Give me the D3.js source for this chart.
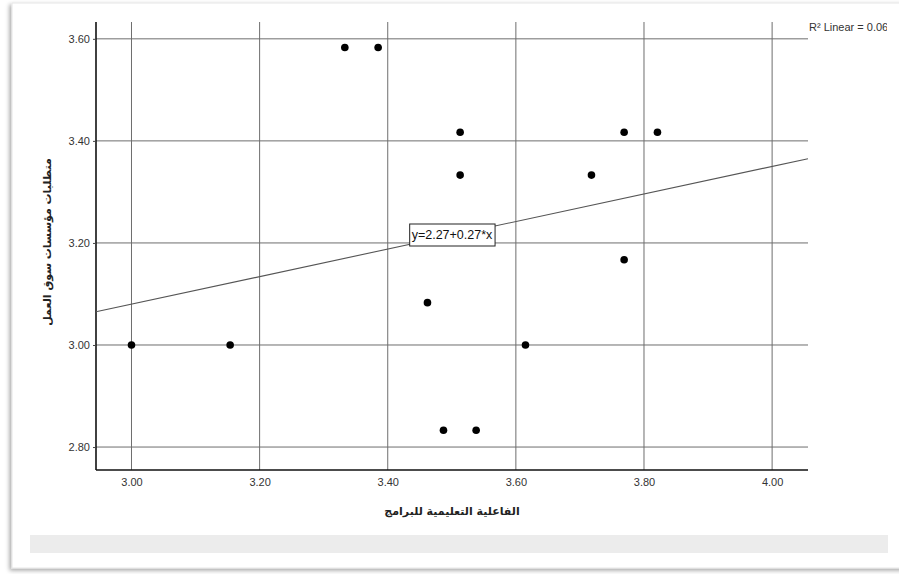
<!DOCTYPE html>
<html>
<head>
<meta charset="utf-8">
<script src="https://cdn.jsdelivr.net/npm/d3@7"></script>
<style>
  html, body { margin: 0; padding: 0; background: #ffffff; }
  svg { display: block; }
</style>
</head>
<body>
<svg id="chart" width="899" height="574"></svg>
<script>
// Scatter of programme effectiveness against labour-market requirements
const xValues = [3.000, 3.154, 3.333, 3.385, 3.462, 3.487, 3.538, 3.513, 3.513, 3.615, 3.718, 3.769, 3.821, 3.769];
const yValues = [3.000, 3.000, 3.583, 3.583, 3.083, 2.833, 2.833, 3.417, 3.333, 3.000, 3.333, 3.417, 3.417, 3.167];
const xTicks = [3.00, 3.20, 3.40, 3.60, 3.80, 4.00];
const yTicks = [2.80, 3.00, 3.20, 3.40, 3.60];
const fitIntercept = 2.27;
const fitSlope = 0.27;
const fitLabel = "y=2.27+0.27*x";
const rSquaredLabel = "R\u00B2 Linear = 0.06";
const xTitle = "الفاعلية التعليمية للبرامج";
const yTitle = "متطلبات مؤسسات سوق العمل";

const svg = d3.select("#chart");
const W = 899, H = 574;

// Card frame with a soft shadow along the left and bottom edges
const defs = svg.append("defs");
const shadow = defs.append("filter").attr("id", "cardShadow")
  .attr("x", "-5%").attr("y", "-5%").attr("width", "110%").attr("height", "110%");
shadow.append("feDropShadow").attr("dx", -2).attr("dy", 2).attr("stdDeviation", 2)
  .attr("flood-color", "#000").attr("flood-opacity", 0.35);

svg.append("rect").attr("x", 0).attr("y", 0).attr("width", W).attr("height", H).attr("fill", "#ffffff");
svg.append("rect")
  .attr("x", 12).attr("y", 3).attr("width", W + 20).attr("height", 565)
  .attr("fill", "#ffffff").attr("stroke", "#e6e6e6").attr("stroke-width", 1)
  .attr("filter", "url(#cardShadow)");

// Grey strip beneath the chart
svg.append("rect").attr("x", 30).attr("y", 535).attr("width", 858).attr("height", 18).attr("fill", "#ececec");

const clip = defs.append("clipPath").attr("id", "cardClip");
clip.append("rect").attr("x", 12).attr("y", 3).attr("width", 875).attr("height", 565);

const plot = { left: 96, right: 808, top: 22, bottom: 470 };

const x = d3.scaleLinear().domain([2.9446, 4.056]).range([plot.left, plot.right]);
const y = d3.scaleLinear().domain([2.755, 3.633]).range([plot.bottom, plot.top]);

const g = svg.append("g").attr("clip-path", "url(#cardClip)");

// Grid lines
g.append("g").selectAll("line.vg").data(xTicks).join("line")
  .attr("x1", d => x(d)).attr("x2", d => x(d))
  .attr("y1", plot.top).attr("y2", plot.bottom)
  .attr("stroke", "#6e6e6e").attr("stroke-width", 1);
g.append("g").selectAll("line.hg").data(yTicks).join("line")
  .attr("x1", plot.left).attr("x2", plot.right)
  .attr("y1", d => y(d)).attr("y2", d => y(d))
  .attr("stroke", "#6e6e6e").attr("stroke-width", 1);

// Axes
const fmt = d3.format(".2f");
const yAxis = d3.axisLeft(y).tickValues(yTicks).tickFormat(fmt).tickSize(3).tickPadding(3);
const xAxis = d3.axisBottom(x).tickValues(xTicks).tickFormat(fmt).tickSize(0).tickPadding(8);

const gy = g.append("g").attr("transform", `translate(${plot.left},0)`).call(yAxis);
const gx = g.append("g").attr("transform", `translate(0,${plot.bottom})`).call(xAxis);
[gx, gy].forEach(a => {
  a.select(".domain").attr("stroke", "#111").attr("stroke-width", 1.6);
  a.selectAll(".tick line").attr("stroke", "#444");
  a.selectAll(".tick text")
    .attr("font-family", "'Liberation Sans', Arial, sans-serif")
    .attr("font-size", 11).attr("fill", "#333");
});
gy.select(".domain").attr("d", `M0,${plot.top}V${plot.bottom}`);
gx.select(".domain").attr("d", `M${plot.left},0H${plot.right}`);

// Linear fit line
const fitX = x.domain();
g.append("line")
  .attr("x1", x(fitX[0])).attr("y1", y(fitIntercept + fitSlope * fitX[0]))
  .attr("x2", x(fitX[1])).attr("y2", y(fitIntercept + fitSlope * fitX[1]))
  .attr("stroke", "#555").attr("stroke-width", 1.1);

// Data points
g.append("g").selectAll("circle").data(xValues.map((v, i) => [v, yValues[i]])).join("circle")
  .attr("cx", d => x(d[0])).attr("cy", d => y(d[1])).attr("r", 3.8).attr("fill", "#000");

// Fit equation label
const lbl = g.append("g").attr("transform", `translate(452,235)`);
const lt = lbl.append("text").attr("text-anchor", "middle").attr("dy", "0.35em")
  .attr("font-family", "'Liberation Sans', Arial, sans-serif").attr("font-size", 12.5).attr("fill", "#111")
  .text(fitLabel);
const bb = lt.node().getBBox();
lbl.insert("rect", "text")
  .attr("x", bb.x - 2).attr("y", -11).attr("width", bb.width + 4).attr("height", 22)
  .attr("fill", "#fff").attr("stroke", "#222").attr("stroke-width", 1);

// R squared note
g.append("text").attr("x", 809).attr("y", 27).attr("dy", "0.35em")
  .attr("font-family", "'Liberation Sans', Arial, sans-serif").attr("font-size", 11).attr("fill", "#333")
  .text(rSquaredLabel);

// Axis titles
g.append("text").attr("x", 452).attr("y", 511).attr("text-anchor", "middle").attr("dy", "0.35em")
  .attr("font-family", "'DejaVu Sans', sans-serif").attr("font-weight", "bold").attr("font-size", 11)
  .attr("fill", "#222").attr("direction", "rtl").text(xTitle);
g.append("text").attr("transform", "translate(47,242) rotate(-90)").attr("text-anchor", "middle").attr("dy", "0.35em")
  .attr("font-family", "'DejaVu Sans', sans-serif").attr("font-weight", "bold").attr("font-size", 11)
  .attr("fill", "#222").attr("direction", "rtl").text(yTitle);
</script>
</body>
</html>
